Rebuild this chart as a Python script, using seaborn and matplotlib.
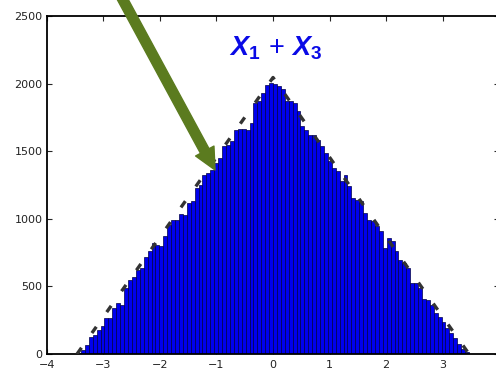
import numpy as np
import pandas as pd
import matplotlib
matplotlib.use("Agg")
import matplotlib.pyplot as plt
import seaborn as sns

# Histogram of X1 + X3 (two unit-variance uniforms): 100 bins on [-2*sqrt(3), 2*sqrt(3)]
half_width = 2 * np.sqrt(3)
n_bins = 100
counts_left = [10, 30, 64, 128, 140, 178, 207, 264, 264, 338, 375, 363, 486, 548, 568,
               622, 635, 721, 758, 820, 807, 795, 869, 955, 993, 993, 1037, 1030, 1116,
               1128, 1227, 1252, 1326, 1338, 1363, 1412, 1449, 1541, 1548, 1573, 1659,
               1664, 1664, 1659, 1709, 1857, 1870, 1931, 1993, 2005]
counts_right = [2000, 1980, 1960, 1870, 1870, 1857, 1795, 1684, 1659, 1622, 1622, 1585,
                1536, 1486, 1425, 1375, 1350, 1277, 1326, 1240, 1153, 1141, 1128, 1042,
                993, 980, 943, 906, 783, 857, 832, 758, 696, 672, 635, 528, 528, 486, 405,
                400, 363, 306, 272, 239, 190, 153, 116, 74, 35, 12]
counts = counts_left + counts_right

# Theoretical triangular density, scaled to counts
tri_x = [-half_width, 0.0, half_width]
tri_y = [0, 2045, 0]

x_ticks = [-4, -3, -2, -1, 0, 1, 2, 3]
y_ticks = [0, 500, 1000, 1500, 2000, 2500]
title = r"$\mathbfit{X}_{\mathbf{1}}\,+\,\mathbfit{X}_{\mathbf{3}}$"

edges = np.linspace(-half_width, half_width, n_bins + 1)
centers = (edges[:-1] + edges[1:]) / 2
df = pd.DataFrame({"x": centers, "count": counts})

sns.set_style("ticks")
plt.rcParams.update({
    "font.family": ["DejaVu Sans"],
    "mathtext.fontset": "custom",
    "mathtext.rm": "Liberation Sans",
    "mathtext.it": "Liberation Sans:italic",
    "mathtext.bf": "Liberation Sans:bold",
    "mathtext.bfit": "Liberation Sans:bold:italic",
})

fig = plt.figure(figsize=(4.96, 3.69), dpi=100)
ax = fig.add_axes([0.0942, 0.0407, 0.9125, 0.916])

sns.histplot(data=df, x="x", weights="count", bins=n_bins,
             binrange=(-half_width, half_width), stat="count",
             color="#0000ee", edgecolor="#000045", linewidth=0.5, alpha=1.0, ax=ax)

sns.lineplot(x=tri_x, y=tri_y, color="#333333", linewidth=2.4,
             linestyle=(0, (2.3, 5.4)), ax=ax, zorder=3)

ax.set_xlim(-4, 4)
ax.set_ylim(0, 2500)
ax.set_xticks(x_ticks)
ax.set_yticks(y_ticks)
ax.set_xlabel("")
ax.set_ylabel("")
ax.tick_params(direction="in", length=3.3, width=0.8, top=True, right=True,
               labelsize=8, labelcolor="#222222")
ax.tick_params(axis="x", pad=4)
ax.tick_params(axis="y", pad=3)
for s in ax.spines.values():
    s.set_linewidth(1.3)
    s.set_color("black")

ax.text(0.05, 2265, title, color="#0a0ae6", fontsize=19.5, ha="center", va="center")

# Pointer arrow onto the left flank of the histogram
ax.annotate("", xy=(-1.025, 1361), xytext=(-2.747, 2692), xycoords="data",
            annotation_clip=False,
            arrowprops=dict(arrowstyle="simple,head_length=15.5,head_width=15,tail_width=7",
                            mutation_scale=1, color="#5b7b1f", shrinkA=0, shrinkB=0,
                            clip_on=False))

fig.savefig("out.png", dpi=100)
